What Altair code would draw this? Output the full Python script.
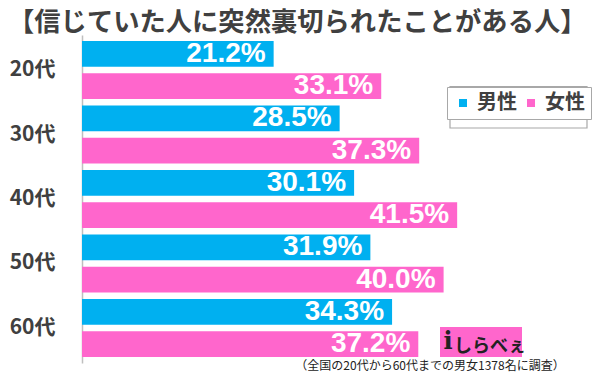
import altair as alt
import pandas as pd

ages = ["20代", "30代", "40代", "50代", "60代"]
male = [21.2, 28.5, 30.1, 31.9, 34.3]
female = [33.1, 37.3, 41.5, 40.0, 37.2]
sexes = ["男性", "女性"]
colors = ["#00B0F0", "#FF66CC"]
title_text = "【信じていた人に突然裏切られたことがある人】"
note_text = "（全国の20代から60代までの男女1378名に調査）"
logo_text = "しらべぇ"

rows = []
for a, m, f in zip(ages, male, female):
    rows.append({"age": a, "sex": sexes[0], "value": m, "label": f"{m:.1f}%"})
    rows.append({"age": a, "sex": sexes[1], "value": f, "label": f"{f:.1f}%"})
df = pd.DataFrame(rows)

JP = "Noto Sans CJK JP"
DARK = "#404040"

y = alt.Y(
    "age:N", sort=ages,
    scale=alt.Scale(paddingInner=0, paddingOuter=0.043),
    axis=alt.Axis(title=None, ticks=False, domainColor="#BFBFBF", domainWidth=1.5,
                  labelFontSize=21, labelFont=JP, labelFontWeight="bold",
                  labelColor=DARK, labelPadding=27, grid=False),
)
yoff = alt.YOffset("sex:N", sort=sexes,
                   scale=alt.Scale(domain=sexes, paddingInner=0.2, paddingOuter=0.1))
x = alt.X("value:Q", scale=alt.Scale(domain=[0, 50]), axis=None)
color = alt.Color(
    "sex:N", sort=sexes,
    scale=alt.Scale(domain=sexes, range=colors),
    legend=alt.Legend(
        title=None, orient="none", legendX=365, legendY=52, direction="horizontal",
        symbolType="square", symbolSize=64, symbolStrokeWidth=0,
        labelFontSize=20, labelFont=JP, labelFontWeight="bold", labelColor=DARK,
        padding=6, columnPadding=4, labelOffset=4,
        strokeColor="#A8A8A8", fillColor="#FFFFFF",
    ),
)

base = alt.Chart(df)
bars = base.mark_bar(cornerRadius=0).encode(x=x, y=y, yOffset=yoff, color=color)
labels = base.mark_text(
    align="right", baseline="middle", dx=-8, color="white",
    font="Liberation Sans", fontSize=28, fontWeight="bold",
).encode(x=x, y=y, yOffset=yoff, text="label:N")

frame = alt.Chart(pd.DataFrame({"edge": ["legend frame"]})).mark_rect(
    fill="#FFFFFF", stroke="#A8A8A8", strokeWidth=1.2
).encode(x=alt.value(368), x2=alt.value(505), y=alt.value(51.5), y2=alt.value(93))

title = alt.Chart(pd.DataFrame({"t": [title_text]})).mark_text(
    align="left", baseline="middle", font=JP, fontSize=26.3, fontWeight="bold", color=DARK
).encode(text="t:N", x=alt.value(-74), y=alt.value(-12))

note = alt.Chart(pd.DataFrame({"t": [note_text]})).mark_text(
    align="center", baseline="middle", font=JP, fontSize=12, color="#222222"
).encode(text="t:N", x=alt.value(348), y=alt.value(331))

logo_box = alt.Chart(pd.DataFrame({"t": [logo_text]})).mark_rect(color="#FF66CC").encode(
    x=alt.value(358), x2=alt.value(440), y=alt.value(292), y2=alt.value(322)
)
logo = alt.Chart(pd.DataFrame({"t": [logo_text]})).mark_text(
    align="left", baseline="middle", font=JP, fontSize=18, fontWeight="bold", color="#222222"
).encode(text="t:N", x=alt.value(372), y=alt.value(312))
logo_i = alt.Chart(pd.DataFrame({"t": ["i"]})).mark_text(
    align="center", baseline="middle", font="DejaVu Serif", fontSize=24, fontWeight="bold", color="#222222"
).encode(text="t:N", x=alt.value(366), y=alt.value(307))

chart = alt.layer(frame, bars, labels, title, note, logo_box, logo, logo_i).properties(
    width=452, height=328,
    padding={"left": 74, "top": 27, "right": 58, "bottom": 9},
    autosize=alt.AutoSizeParams(type="none"),
).configure_view(stroke=None).configure_legend(strokeColor="#A8A8A8", strokeWidth=1)

chart.save("out.html", embed_options={"renderer": "svg", "actions": False})
